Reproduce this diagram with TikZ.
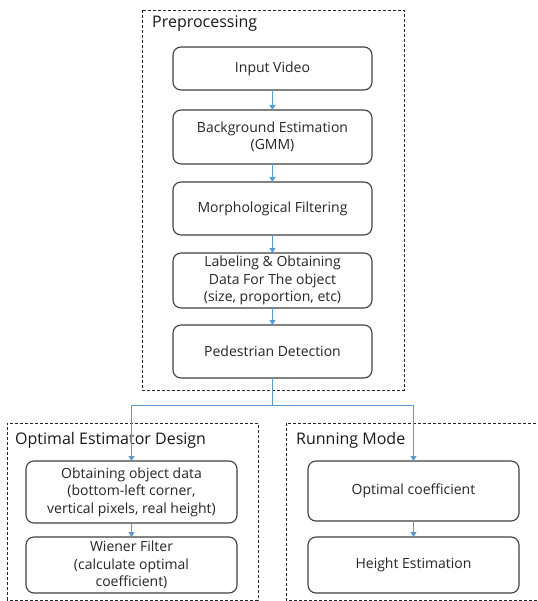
\documentclass[tikz,border=0pt]{standalone}
\usepackage{fontspec}
\setmainfont{Open Sans}
\usetikzlibrary{arrows.meta}
\begin{document}
\begin{tikzpicture}[x=1pt,y=-1pt,
  frame/.style={draw=black!85,dashed,dash pattern=on 3pt off 2pt,line width=0.7pt},
  stepbox/.style={draw=black!75,line width=1.1pt,rounded corners=8pt,fill=white},
  lbl/.style={font=\fontsize{14}{17.5}\selectfont,align=center,text=black!85,inner sep=0pt},
  ttl/.style={font=\fontsize{16}{18}\selectfont,anchor=west,text=black!90,inner sep=0pt},
  conn/.style={draw={rgb,255:red,91;green,155;blue,213},color={rgb,255:red,91;green,155;blue,213},line width=1pt},
  arr/.style={conn,-{Triangle[width=6pt,length=5pt]}}]
\useasboundingbox (0,0) rectangle (537,601);
% frames
\draw[frame] (142,10) rectangle (404,390);
\draw[frame] (7,600) -- (7,423) -- (258,423) -- (258,600) -- cycle;
\draw[frame] (537,600) -- (286,600) -- (286,423) -- (537,423);
\node[ttl] (tpre) at (152,24) {Preprocessing};
\node[ttl] (topt) at (15,440) {Optimal Estimator Design};
\node[ttl] (trun) at (296,440) {Running Mode};
% boxes
\path[stepbox] (173,47) rectangle (372,90);
\node[lbl] (iv) at (272.5,68.5) {Input Video};
\path[stepbox] (173,110) rectangle (372,164);
\node[lbl] (bg) at (272.5,137) {Background Estimation\\(GMM)};
\path[stepbox] (173,182) rectangle (372,235);
\node[lbl] (mf) at (272.5,208.5) {Morphological Filtering};
\path[stepbox] (173,253) rectangle (372,308);
\node[lbl] (lb) at (272.5,280.5) {Labeling \& Obtaining\\Data For The object\\(size, proportion, etc)};
\path[stepbox] (173,325) rectangle (372,378);
\node[lbl] (pd) at (272.5,351.5) {Pedestrian Detection};
\path[stepbox] (26,461) rectangle (237,523);
\node[lbl] (od) at (131.5,492) {Obtaining object data\\(bottom-left corner,\\vertical pixels, real height)};
\path[stepbox] (26,537) rectangle (237,593);
\node[lbl] (wf) at (131.5,565) {Wiener Filter\\(calculate optimal\\coefficient)};
\path[stepbox] (308,461) rectangle (519,521);
\node[lbl] (oc) at (413.5,491) {Optimal coefficient};
\path[stepbox] (308,537) rectangle (519,593);
\node[lbl] (he) at (413.5,565) {Height Estimation};
% named anchor coordinates
\coordinate (ivb) at (272.5,90); \coordinate (bgt) at (272.5,110);
\coordinate (bgb) at (272.5,164); \coordinate (mft) at (272.5,182);
\coordinate (mfb) at (272.5,235); \coordinate (lbt) at (272.5,253);
\coordinate (lbb) at (272.5,308); \coordinate (pdt) at (272.5,325);
\coordinate (pdb) at (272.5,378); \coordinate (split) at (272.5,405);
\coordinate (odt) at (131.5,461); \coordinate (odb) at (131.5,523);
\coordinate (wft) at (131.5,537);
\coordinate (oct) at (413.5,461); \coordinate (ocb) at (413.5,521);
\coordinate (het) at (413.5,537);
\draw[arr] (ivb) -- (bgt);
\draw[arr] (bgb) -- (mft);
\draw[arr] (mfb) -- (lbt);
\draw[arr] (lbb) -- (pdt);
\draw[conn] (pdb) -- (split);
\draw[arr] (split) -| (odt);
\draw[arr] (split) -| (oct);
\draw[arr] (odb) -- (wft);
\draw[arr] (ocb) -- (het);
\end{tikzpicture}
\end{document}
